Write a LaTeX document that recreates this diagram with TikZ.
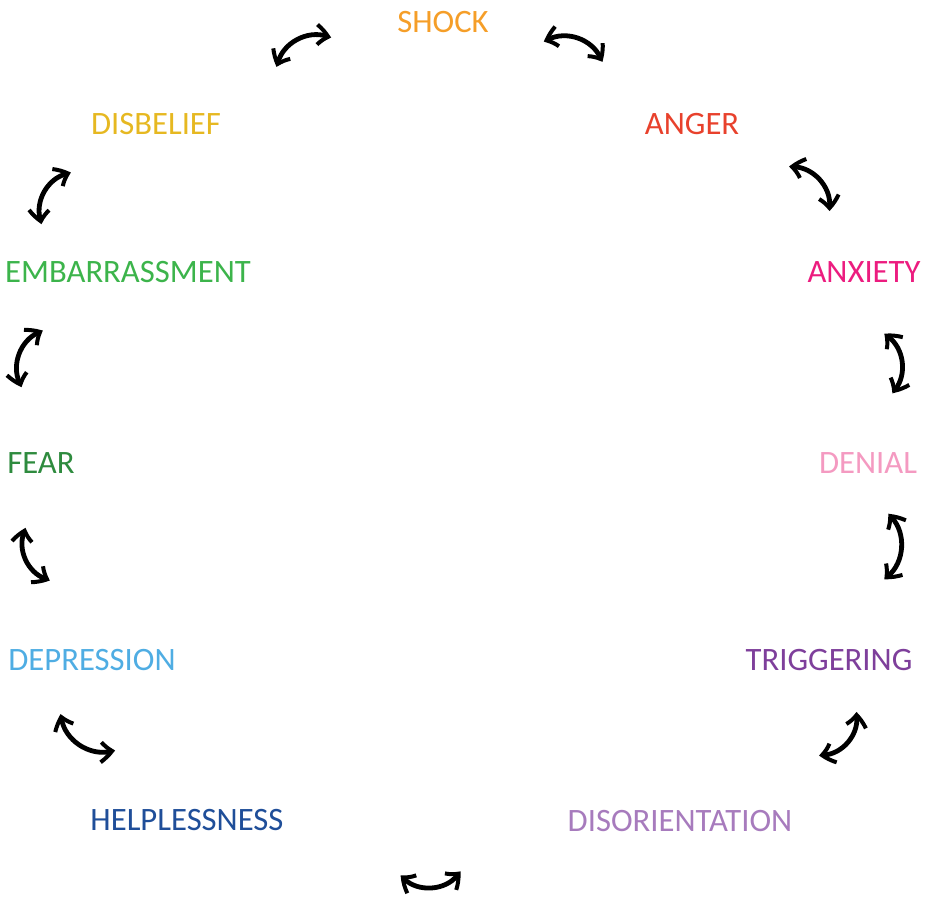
\documentclass[tikz,border=0pt]{standalone}
\usepackage{fontspec}
\setmainfont{Carlito}
\usetikzlibrary{arrows.meta,bending}

\definecolor{shockc}{HTML}{F59E28}
\definecolor{angerc}{HTML}{E8412C}
\definecolor{anxietyc}{HTML}{EC1C7F}
\definecolor{denialc}{HTML}{F49AC1}
\definecolor{triggerc}{HTML}{7E3F9B}
\definecolor{disorientc}{HTML}{A77BBD}
\definecolor{helplessc}{HTML}{1F4E99}
\definecolor{depressc}{HTML}{4FADE3}
\definecolor{fearc}{HTML}{2E8B3E}
\definecolor{embarrassc}{HTML}{3CB44B}
\definecolor{disbeliefc}{HTML}{E6B821}

\tikzset{every picture/.style={line width=0.75pt}}
\tikzset{
  emo/.style={inner sep=0.75pt, font=\fontsize{24.5}{28}\selectfont},
  swap/.style={line width=3.6pt, line cap=round, line join=round,
    {Straight Barb[length=8.5pt,width=15pt,line width=3pt,bend]}-{Straight Barb[length=8.5pt,width=15pt,line width=3pt,bend]}}
}

\begin{document}
\begin{tikzpicture}[x=0.75pt,y=0.75pt,yscale=-1,xscale=1]
        \useasboundingbox (0,0) rectangle (930,896);

        % Text Node
        \draw (443,22) node [emo, text=shockc] (shock) {SHOCK};
        % Text Node
        \draw (692,124) node [emo, text=angerc] (anger) {ANGER};
        % Text Node
        \draw (864,272) node [emo, text=anxietyc] (anxiety) {ANXIETY};
        % Text Node
        \draw (868,463) node [emo, text=denialc] (denial) {DENIAL};
        % Text Node
        \draw (829,660) node [emo, text=triggerc] (triggering) {TRIGGERING};
        % Text Node
        \draw (680,821) node [emo, text=disorientc] (disorientation) {DISORIENTATION};
        % Text Node
        \draw (187,820) node [emo, text=helplessc] (helplessness) {HELPLESSNESS};
        % Text Node
        \draw (92,660) node [emo, text=depressc] (depression) {DEPRESSION};
        % Text Node
        \draw (41,463) node [emo, text=fearc] (fear) {FEAR};
        % Text Node
        \draw (128,272) node [emo, text=embarrassc] (embarrassment) {EMBARRASSMENT};
        % Text Node
        \draw (156,124) node [emo, text=disbeliefc] (disbelief) {DISBELIEF};

        % arrow ends
        \coordinate (sd1) at (277,67);   \coordinate (sd2) at (331,38);
        \coordinate (sa1) at (544,42);   \coordinate (sa2) at (602,62);
        \coordinate (ax1) at (789,167);  \coordinate (ax2) at (829,211);
        \coordinate (xd1) at (884,334);  \coordinate (xd2) at (892,393);
        \coordinate (dt1) at (888,514);  \coordinate (dt2) at (884,579);
        \coordinate (to1) at (856,712);  \coordinate (to2) at (819,755);
        \coordinate (oh1) at (460,871);  \coordinate (oh2) at (401,875);
        \coordinate (hp1) at (115,750);  \coordinate (hp2) at (61,714);
        \coordinate (pf1) at (50,580);   \coordinate (pf2) at (26,528);
        \coordinate (fe1) at (22,387);   \coordinate (fe2) at (43,331);
        \coordinate (eb1) at (42,224);   \coordinate (eb2) at (71,173);

        %Curved Arrows
        \draw [swap] (sd1) to[bend right=55] (sd2);
        \draw [swap] (sa1) to[bend right=55] (sa2);
        \draw [swap] (ax1) to[bend right=55] (ax2);
        \draw [swap] (xd1) to[bend right=55] (xd2);
        \draw [swap] (dt1) to[bend right=55] (dt2);
        \draw [swap] (to1) to[bend right=55] (to2);
        \draw [swap] (oh1) to[bend right=60] (oh2);
        \draw [swap] (hp1) to[bend right=55] (hp2);
        \draw [swap] (pf1) to[bend right=55] (pf2);
        \draw [swap] (fe1) to[bend right=55] (fe2);
        \draw [swap] (eb1) to[bend right=55] (eb2);

\end{tikzpicture}
\end{document}
